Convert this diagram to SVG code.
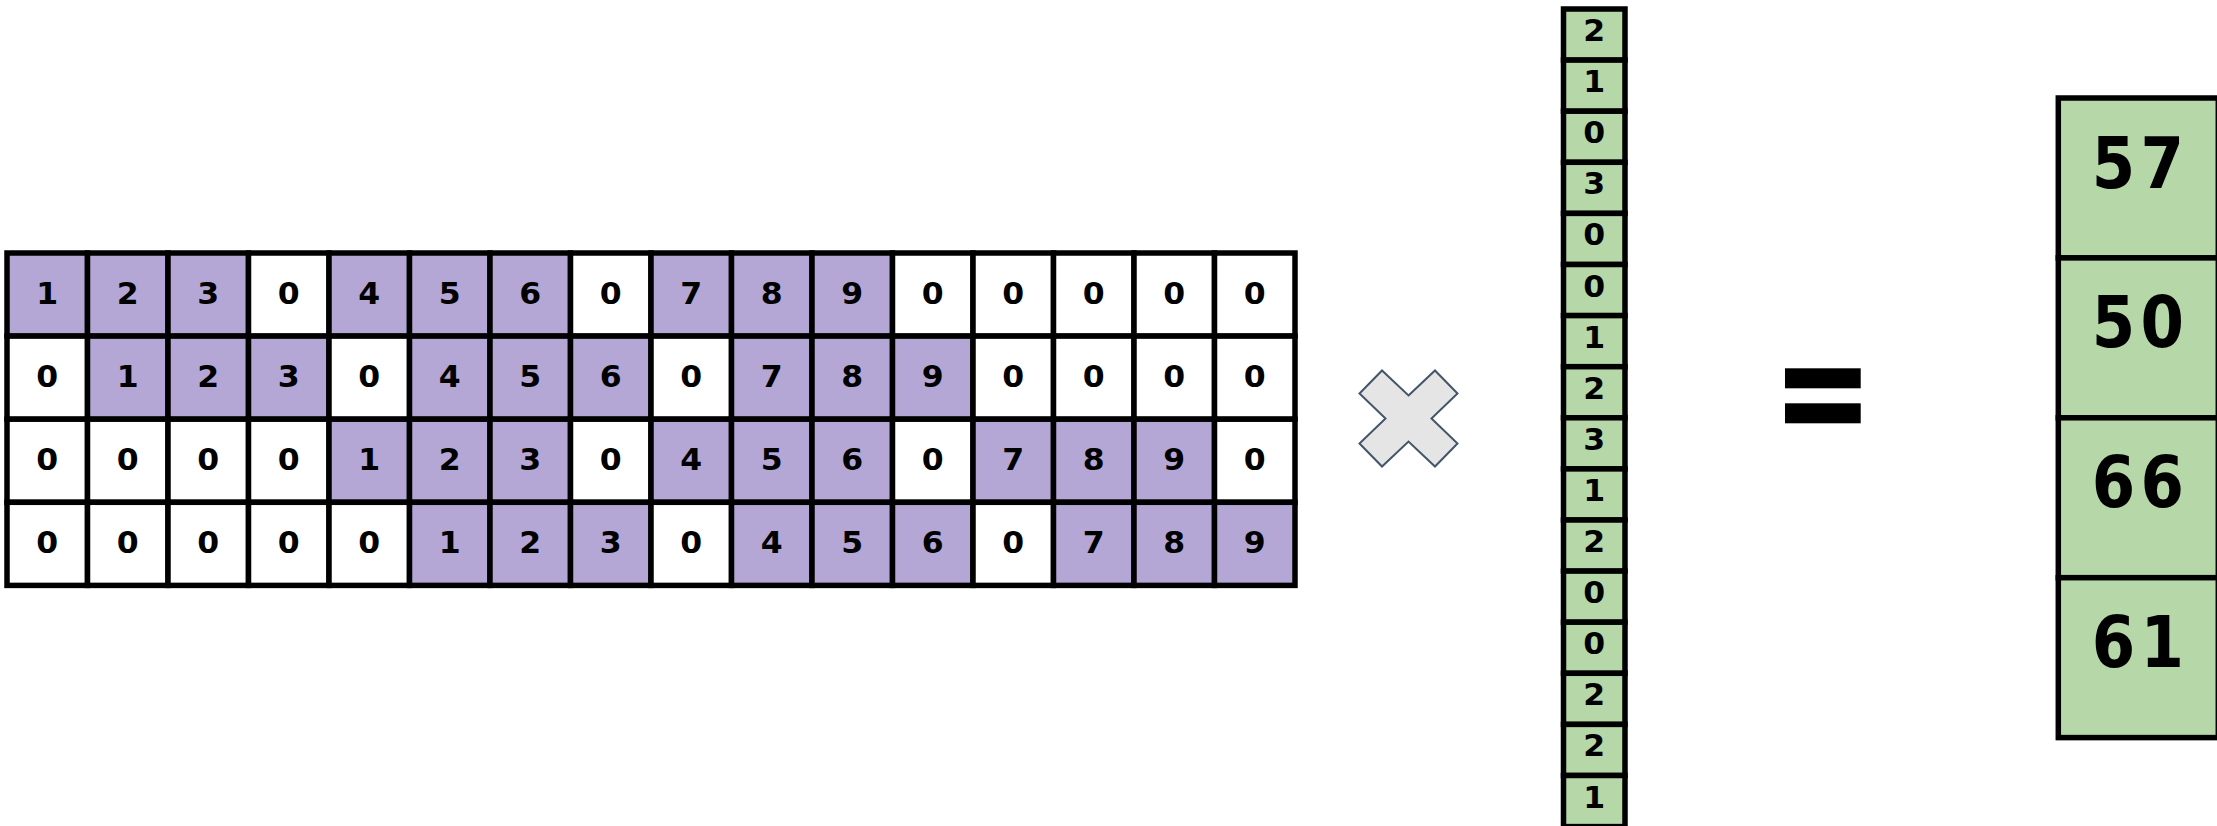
<svg xmlns="http://www.w3.org/2000/svg" width="2217" height="826" viewBox="0 0 2217 826">
<style>
rect{stroke:#000;stroke-width:5.5}
.p{fill:#b4a7d6}.w{fill:#fff}.g{fill:#b6d7a8}
text{font-family:"DejaVu Sans","Liberation Sans",sans-serif;font-weight:bold;text-anchor:middle;fill:#000}
.t{font-size:30px}
.b{font-size:71px;letter-spacing:6px}
</style>
<rect width="2217" height="826" fill="#fff" style="stroke:none"/>
<g id="matrix">
<g id="r0">
<g id="m00"><rect class="p" x="7" y="253" width="80.5" height="83.1"/><text class="t" transform="translate(47.25 304) scale(1.05 1)">1</text></g>
<g id="m01"><rect class="p" x="87.5" y="253" width="80.5" height="83.1"/><text class="t" transform="translate(127.75 304) scale(1.05 1)">2</text></g>
<g id="m02"><rect class="p" x="168" y="253" width="80.5" height="83.1"/><text class="t" transform="translate(208.25 304) scale(1.05 1)">3</text></g>
<g id="m03"><rect class="w" x="248.5" y="253" width="80.5" height="83.1"/><text class="t" transform="translate(288.75 304) scale(1.05 1)">0</text></g>
<g id="m04"><rect class="p" x="329" y="253" width="80.5" height="83.1"/><text class="t" transform="translate(369.25 304) scale(1.05 1)">4</text></g>
<g id="m05"><rect class="p" x="409.5" y="253" width="80.5" height="83.1"/><text class="t" transform="translate(449.75 304) scale(1.05 1)">5</text></g>
<g id="m06"><rect class="p" x="490" y="253" width="80.5" height="83.1"/><text class="t" transform="translate(530.25 304) scale(1.05 1)">6</text></g>
<g id="m07"><rect class="w" x="570.5" y="253" width="80.5" height="83.1"/><text class="t" transform="translate(610.75 304) scale(1.05 1)">0</text></g>
<g id="m08"><rect class="p" x="651" y="253" width="80.5" height="83.1"/><text class="t" transform="translate(691.25 304) scale(1.05 1)">7</text></g>
<g id="m09"><rect class="p" x="731.5" y="253" width="80.5" height="83.1"/><text class="t" transform="translate(771.75 304) scale(1.05 1)">8</text></g>
<g id="m010"><rect class="p" x="812" y="253" width="80.5" height="83.1"/><text class="t" transform="translate(852.25 304) scale(1.05 1)">9</text></g>
<g id="m011"><rect class="w" x="892.5" y="253" width="80.5" height="83.1"/><text class="t" transform="translate(932.75 304) scale(1.05 1)">0</text></g>
<g id="m012"><rect class="w" x="973" y="253" width="80.5" height="83.1"/><text class="t" transform="translate(1013.25 304) scale(1.05 1)">0</text></g>
<g id="m013"><rect class="w" x="1053.5" y="253" width="80.5" height="83.1"/><text class="t" transform="translate(1093.75 304) scale(1.05 1)">0</text></g>
<g id="m014"><rect class="w" x="1134" y="253" width="80.5" height="83.1"/><text class="t" transform="translate(1174.25 304) scale(1.05 1)">0</text></g>
<g id="m015"><rect class="w" x="1214.5" y="253" width="80.5" height="83.1"/><text class="t" transform="translate(1254.75 304) scale(1.05 1)">0</text></g>
</g>
<g id="r1">
<g id="m10"><rect class="w" x="7" y="336.1" width="80.5" height="83.1"/><text class="t" transform="translate(47.25 387.1) scale(1.05 1)">0</text></g>
<g id="m11"><rect class="p" x="87.5" y="336.1" width="80.5" height="83.1"/><text class="t" transform="translate(127.75 387.1) scale(1.05 1)">1</text></g>
<g id="m12"><rect class="p" x="168" y="336.1" width="80.5" height="83.1"/><text class="t" transform="translate(208.25 387.1) scale(1.05 1)">2</text></g>
<g id="m13"><rect class="p" x="248.5" y="336.1" width="80.5" height="83.1"/><text class="t" transform="translate(288.75 387.1) scale(1.05 1)">3</text></g>
<g id="m14"><rect class="w" x="329" y="336.1" width="80.5" height="83.1"/><text class="t" transform="translate(369.25 387.1) scale(1.05 1)">0</text></g>
<g id="m15"><rect class="p" x="409.5" y="336.1" width="80.5" height="83.1"/><text class="t" transform="translate(449.75 387.1) scale(1.05 1)">4</text></g>
<g id="m16"><rect class="p" x="490" y="336.1" width="80.5" height="83.1"/><text class="t" transform="translate(530.25 387.1) scale(1.05 1)">5</text></g>
<g id="m17"><rect class="p" x="570.5" y="336.1" width="80.5" height="83.1"/><text class="t" transform="translate(610.75 387.1) scale(1.05 1)">6</text></g>
<g id="m18"><rect class="w" x="651" y="336.1" width="80.5" height="83.1"/><text class="t" transform="translate(691.25 387.1) scale(1.05 1)">0</text></g>
<g id="m19"><rect class="p" x="731.5" y="336.1" width="80.5" height="83.1"/><text class="t" transform="translate(771.75 387.1) scale(1.05 1)">7</text></g>
<g id="m110"><rect class="p" x="812" y="336.1" width="80.5" height="83.1"/><text class="t" transform="translate(852.25 387.1) scale(1.05 1)">8</text></g>
<g id="m111"><rect class="p" x="892.5" y="336.1" width="80.5" height="83.1"/><text class="t" transform="translate(932.75 387.1) scale(1.05 1)">9</text></g>
<g id="m112"><rect class="w" x="973" y="336.1" width="80.5" height="83.1"/><text class="t" transform="translate(1013.25 387.1) scale(1.05 1)">0</text></g>
<g id="m113"><rect class="w" x="1053.5" y="336.1" width="80.5" height="83.1"/><text class="t" transform="translate(1093.75 387.1) scale(1.05 1)">0</text></g>
<g id="m114"><rect class="w" x="1134" y="336.1" width="80.5" height="83.1"/><text class="t" transform="translate(1174.25 387.1) scale(1.05 1)">0</text></g>
<g id="m115"><rect class="w" x="1214.5" y="336.1" width="80.5" height="83.1"/><text class="t" transform="translate(1254.75 387.1) scale(1.05 1)">0</text></g>
</g>
<g id="r2">
<g id="m20"><rect class="w" x="7" y="419.2" width="80.5" height="83.1"/><text class="t" transform="translate(47.25 470.2) scale(1.05 1)">0</text></g>
<g id="m21"><rect class="w" x="87.5" y="419.2" width="80.5" height="83.1"/><text class="t" transform="translate(127.75 470.2) scale(1.05 1)">0</text></g>
<g id="m22"><rect class="w" x="168" y="419.2" width="80.5" height="83.1"/><text class="t" transform="translate(208.25 470.2) scale(1.05 1)">0</text></g>
<g id="m23"><rect class="w" x="248.5" y="419.2" width="80.5" height="83.1"/><text class="t" transform="translate(288.75 470.2) scale(1.05 1)">0</text></g>
<g id="m24"><rect class="p" x="329" y="419.2" width="80.5" height="83.1"/><text class="t" transform="translate(369.25 470.2) scale(1.05 1)">1</text></g>
<g id="m25"><rect class="p" x="409.5" y="419.2" width="80.5" height="83.1"/><text class="t" transform="translate(449.75 470.2) scale(1.05 1)">2</text></g>
<g id="m26"><rect class="p" x="490" y="419.2" width="80.5" height="83.1"/><text class="t" transform="translate(530.25 470.2) scale(1.05 1)">3</text></g>
<g id="m27"><rect class="w" x="570.5" y="419.2" width="80.5" height="83.1"/><text class="t" transform="translate(610.75 470.2) scale(1.05 1)">0</text></g>
<g id="m28"><rect class="p" x="651" y="419.2" width="80.5" height="83.1"/><text class="t" transform="translate(691.25 470.2) scale(1.05 1)">4</text></g>
<g id="m29"><rect class="p" x="731.5" y="419.2" width="80.5" height="83.1"/><text class="t" transform="translate(771.75 470.2) scale(1.05 1)">5</text></g>
<g id="m210"><rect class="p" x="812" y="419.2" width="80.5" height="83.1"/><text class="t" transform="translate(852.25 470.2) scale(1.05 1)">6</text></g>
<g id="m211"><rect class="w" x="892.5" y="419.2" width="80.5" height="83.1"/><text class="t" transform="translate(932.75 470.2) scale(1.05 1)">0</text></g>
<g id="m212"><rect class="p" x="973" y="419.2" width="80.5" height="83.1"/><text class="t" transform="translate(1013.25 470.2) scale(1.05 1)">7</text></g>
<g id="m213"><rect class="p" x="1053.5" y="419.2" width="80.5" height="83.1"/><text class="t" transform="translate(1093.75 470.2) scale(1.05 1)">8</text></g>
<g id="m214"><rect class="p" x="1134" y="419.2" width="80.5" height="83.1"/><text class="t" transform="translate(1174.25 470.2) scale(1.05 1)">9</text></g>
<g id="m215"><rect class="w" x="1214.5" y="419.2" width="80.5" height="83.1"/><text class="t" transform="translate(1254.75 470.2) scale(1.05 1)">0</text></g>
</g>
<g id="r3">
<g id="m30"><rect class="w" x="7" y="502.3" width="80.5" height="83.1"/><text class="t" transform="translate(47.25 553.3) scale(1.05 1)">0</text></g>
<g id="m31"><rect class="w" x="87.5" y="502.3" width="80.5" height="83.1"/><text class="t" transform="translate(127.75 553.3) scale(1.05 1)">0</text></g>
<g id="m32"><rect class="w" x="168" y="502.3" width="80.5" height="83.1"/><text class="t" transform="translate(208.25 553.3) scale(1.05 1)">0</text></g>
<g id="m33"><rect class="w" x="248.5" y="502.3" width="80.5" height="83.1"/><text class="t" transform="translate(288.75 553.3) scale(1.05 1)">0</text></g>
<g id="m34"><rect class="w" x="329" y="502.3" width="80.5" height="83.1"/><text class="t" transform="translate(369.25 553.3) scale(1.05 1)">0</text></g>
<g id="m35"><rect class="p" x="409.5" y="502.3" width="80.5" height="83.1"/><text class="t" transform="translate(449.75 553.3) scale(1.05 1)">1</text></g>
<g id="m36"><rect class="p" x="490" y="502.3" width="80.5" height="83.1"/><text class="t" transform="translate(530.25 553.3) scale(1.05 1)">2</text></g>
<g id="m37"><rect class="p" x="570.5" y="502.3" width="80.5" height="83.1"/><text class="t" transform="translate(610.75 553.3) scale(1.05 1)">3</text></g>
<g id="m38"><rect class="w" x="651" y="502.3" width="80.5" height="83.1"/><text class="t" transform="translate(691.25 553.3) scale(1.05 1)">0</text></g>
<g id="m39"><rect class="p" x="731.5" y="502.3" width="80.5" height="83.1"/><text class="t" transform="translate(771.75 553.3) scale(1.05 1)">4</text></g>
<g id="m310"><rect class="p" x="812" y="502.3" width="80.5" height="83.1"/><text class="t" transform="translate(852.25 553.3) scale(1.05 1)">5</text></g>
<g id="m311"><rect class="p" x="892.5" y="502.3" width="80.5" height="83.1"/><text class="t" transform="translate(932.75 553.3) scale(1.05 1)">6</text></g>
<g id="m312"><rect class="w" x="973" y="502.3" width="80.5" height="83.1"/><text class="t" transform="translate(1013.25 553.3) scale(1.05 1)">0</text></g>
<g id="m313"><rect class="p" x="1053.5" y="502.3" width="80.5" height="83.1"/><text class="t" transform="translate(1093.75 553.3) scale(1.05 1)">7</text></g>
<g id="m314"><rect class="p" x="1134" y="502.3" width="80.5" height="83.1"/><text class="t" transform="translate(1174.25 553.3) scale(1.05 1)">8</text></g>
<g id="m315"><rect class="p" x="1214.5" y="502.3" width="80.5" height="83.1"/><text class="t" transform="translate(1254.75 553.3) scale(1.05 1)">9</text></g>
</g>
</g>
<g id="times">
<path d="M1408.5 395.5 L1435 370.5 L1457.5 393.5 L1431.5 418.5 L1457.5 443.5 L1435 466.5 L1408.5 441.5 L1382 466.5 L1359.5 443.5 L1385.5 418.5 L1359.5 393.5 L1382 370.5 Z" fill="#e5e5e5" stroke="#44546a" stroke-width="2" stroke-linejoin="miter"/>
</g>
<g id="vector">
<g id="v0"><rect class="g" x="1563.5" y="9" width="61.5" height="51.1"/><text class="t" transform="translate(1594.25 41) scale(1.05 1)">2</text></g>
<g id="v1"><rect class="g" x="1563.5" y="60.1" width="61.5" height="51.1"/><text class="t" transform="translate(1594.25 92.1) scale(1.05 1)">1</text></g>
<g id="v2"><rect class="g" x="1563.5" y="111.2" width="61.5" height="51.1"/><text class="t" transform="translate(1594.25 143.2) scale(1.05 1)">0</text></g>
<g id="v3"><rect class="g" x="1563.5" y="162.3" width="61.5" height="51.1"/><text class="t" transform="translate(1594.25 194.3) scale(1.05 1)">3</text></g>
<g id="v4"><rect class="g" x="1563.5" y="213.4" width="61.5" height="51.1"/><text class="t" transform="translate(1594.25 245.4) scale(1.05 1)">0</text></g>
<g id="v5"><rect class="g" x="1563.5" y="264.5" width="61.5" height="51.1"/><text class="t" transform="translate(1594.25 296.5) scale(1.05 1)">0</text></g>
<g id="v6"><rect class="g" x="1563.5" y="315.6" width="61.5" height="51.1"/><text class="t" transform="translate(1594.25 347.6) scale(1.05 1)">1</text></g>
<g id="v7"><rect class="g" x="1563.5" y="366.7" width="61.5" height="51.1"/><text class="t" transform="translate(1594.25 398.7) scale(1.05 1)">2</text></g>
<g id="v8"><rect class="g" x="1563.5" y="417.8" width="61.5" height="51.1"/><text class="t" transform="translate(1594.25 449.8) scale(1.05 1)">3</text></g>
<g id="v9"><rect class="g" x="1563.5" y="468.9" width="61.5" height="51.1"/><text class="t" transform="translate(1594.25 500.9) scale(1.05 1)">1</text></g>
<g id="v10"><rect class="g" x="1563.5" y="520" width="61.5" height="51.1"/><text class="t" transform="translate(1594.25 552) scale(1.05 1)">2</text></g>
<g id="v11"><rect class="g" x="1563.5" y="571.1" width="61.5" height="51.1"/><text class="t" transform="translate(1594.25 603.1) scale(1.05 1)">0</text></g>
<g id="v12"><rect class="g" x="1563.5" y="622.2" width="61.5" height="51.1"/><text class="t" transform="translate(1594.25 654.2) scale(1.05 1)">0</text></g>
<g id="v13"><rect class="g" x="1563.5" y="673.3" width="61.5" height="51.1"/><text class="t" transform="translate(1594.25 705.3) scale(1.05 1)">2</text></g>
<g id="v14"><rect class="g" x="1563.5" y="724.4" width="61.5" height="51.1"/><text class="t" transform="translate(1594.25 756.4) scale(1.05 1)">2</text></g>
<g id="v15"><rect class="g" x="1563.5" y="775.5" width="61.5" height="51.1"/><text class="t" transform="translate(1594.25 807.5) scale(1.05 1)">1</text></g>
</g>
<g id="equals">
<rect x="1785" y="368.3" width="75.7" height="20" fill="#000" style="stroke:none"/>
<rect x="1785" y="403.3" width="75.7" height="20" fill="#000" style="stroke:none"/>
</g>
<g id="result">
<g id="o0"><rect class="g" x="2058.3" y="98" width="160" height="159.9"/><text class="b" transform="translate(2140.6 187.5) scale(0.88 1)">57</text></g>
<g id="o1"><rect class="g" x="2058.3" y="257.9" width="160" height="159.9"/><text class="b" transform="translate(2140.6 347.4) scale(0.88 1)">50</text></g>
<g id="o2"><rect class="g" x="2058.3" y="417.8" width="160" height="159.9"/><text class="b" transform="translate(2140.6 507.3) scale(0.88 1)">66</text></g>
<g id="o3"><rect class="g" x="2058.3" y="577.7" width="160" height="159.9"/><text class="b" transform="translate(2140.6 667.2) scale(0.88 1)">61</text></g>
</g>
</svg>
